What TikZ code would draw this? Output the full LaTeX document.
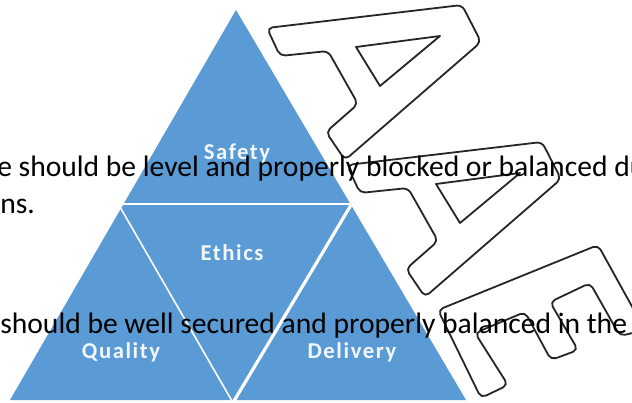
\documentclass[tikz,border=0pt]{standalone}
\usepackage{fontspec}
\setmainfont{Carlito}
\newfontfamily\capfont[LetterSpace=7]{Carlito}
\definecolor{triblue}{HTML}{5B9BD5}
\tikzset{
  px/.style={x=0.75pt,y=-0.75pt},
  bodytext/.style={anchor=base west,inner sep=0pt,text=black,font=\fontsize{22.2pt}{22.2pt}\selectfont},
  tricap/.style={anchor=center,inner sep=0pt,text=white!92!triblue,font=\capfont\bfseries\fontsize{17pt}{17pt}\selectfont},
  outline/.style={draw=black!85,line width=1.35pt,line join=round,fill=white},
  divider/.style={draw=white,line cap=butt}
}
\newcommand{\letterA}[2]{%
  \begin{scope}[shift={(#1,#2)}]
    \draw[outline,rounded corners=4pt] (267,28) -- (462,5) -- (481,42) -- (345,160) -- (326,132) -- (358,104) -- (328,51) -- (280,56) -- cycle;
    \draw[outline,fill=white] (356,47) -- (440,36) -- (380,86) -- cycle;
  \end{scope}}
\begin{document}
\begin{tikzpicture}[px]
\useasboundingbox (0,0) rectangle (632,403);
\clip (0,0) rectangle (632,403);
\fill[white] (0,0) rectangle (632,403);
% pyramid
\fill[triblue] (236,10) -- (466,400) -- (10,400) -- cycle;
\draw[divider,line width=1.2pt] (118,204) -- (354,204);
\draw[divider,line width=1.2pt] (120,207) -- (232,401);
\draw[divider,line width=2.4pt] (351,205) -- (234,401);
\node[tricap] (safety) at (237,153) {Safety};
\node[tricap] (ethics) at (232,253) {Ethics};
\node[tricap] (quality) at (121,352) {Quality};
\node[tricap] (delivery) at (352,352) {Delivery};
% outlined letters
\letterA{0}{0}
\letterA{80}{137}
\draw[outline,rounded corners=4pt] (438,310) -- (598,245) -- (645,330) -- (620,336) -- (590,283) -- (550,302) -- (578,350) -- (551,360) -- (525,312) -- (475,333) -- (508,385) -- (481,398) -- cycle;
% overlaid body text
\node[bodytext] (lineone) at (-3,176) {e should be level and properly blocked or balanced du};
\node[bodytext] (linetwo) at (0,213) {ns.};
\node[bodytext] (linethree) at (0,333) {should be well secured and properly balanced in the};
\end{tikzpicture}
\end{document}
